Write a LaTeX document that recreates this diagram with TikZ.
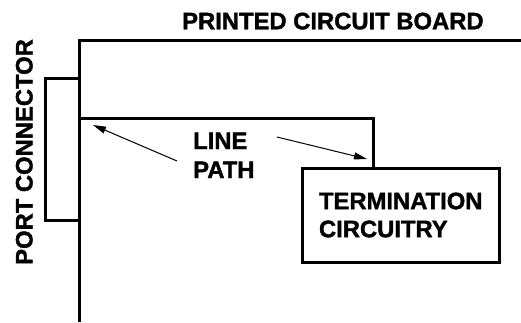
\documentclass[tikz,border=0pt]{standalone}
\usepackage{fontspec}
\setmainfont{Liberation Sans}[BoldFont={Liberation Sans Bold},BoldFeatures={FakeBold=1.5}]
\usetikzlibrary{arrows.meta}
\begin{document}
\begin{tikzpicture}[x=1pt,y=1pt,
  heavy/.style={line width=3pt},
  lbl/.style={font=\fontsize{23.8}{28}\selectfont\bfseries, inner sep=0pt},
  pointer/.style={line width=1pt, -{Triangle[length=13pt,width=7pt]}},
  boxnode/.style={draw, line width=3pt, rectangle, inner sep=0pt}]
\useasboundingbox (0,0) rectangle (521,322);
% board outline
\coordinate (bb) at (79.5,0);
\coordinate (bc) at (79.5,281);
\coordinate (br) at (521,281);
\draw[heavy, line join=miter] (bb) -- (bc) -- (br);
% port connector
\node[boxnode, minimum width=34pt, minimum height=142pt] (port) at (62.5,173) {};
% termination box
\node[boxnode, minimum width=196.5pt, minimum height=94pt, align=left,
      font=\fontsize{23.8}{28}\selectfont\bfseries] (term) at (400.75,107)
      {TERMINATION\\CIRCUITRY};
% line path
\coordinate (ls) at (79.5,204);
\coordinate (lc) at (373,204);
\draw[heavy, line join=miter] (ls) -- (lc) -- (lc |- term.north);
% labels
\node[lbl, anchor=base west] (title) at (182,292.7) {PRINTED CIRCUIT BOARD};
\node[lbl, anchor=base west, rotate=90] (portlbl) at (32.5,57) {PORT CONNECTOR};
\node[lbl, anchor=base west] (line1) at (193,173) {LINE};
\node[lbl, anchor=base west] (line2) at (193,144) {PATH};
% arrows
\coordinate (a1s) at (177,161);
\coordinate (a1e) at (93,197);
\coordinate (a2s) at (277,185);
\coordinate (a2e) at (367,163);
\draw[pointer] (a1s) -- (a1e);
\draw[pointer] (a2s) -- (a2e);
\end{tikzpicture}
\end{document}
